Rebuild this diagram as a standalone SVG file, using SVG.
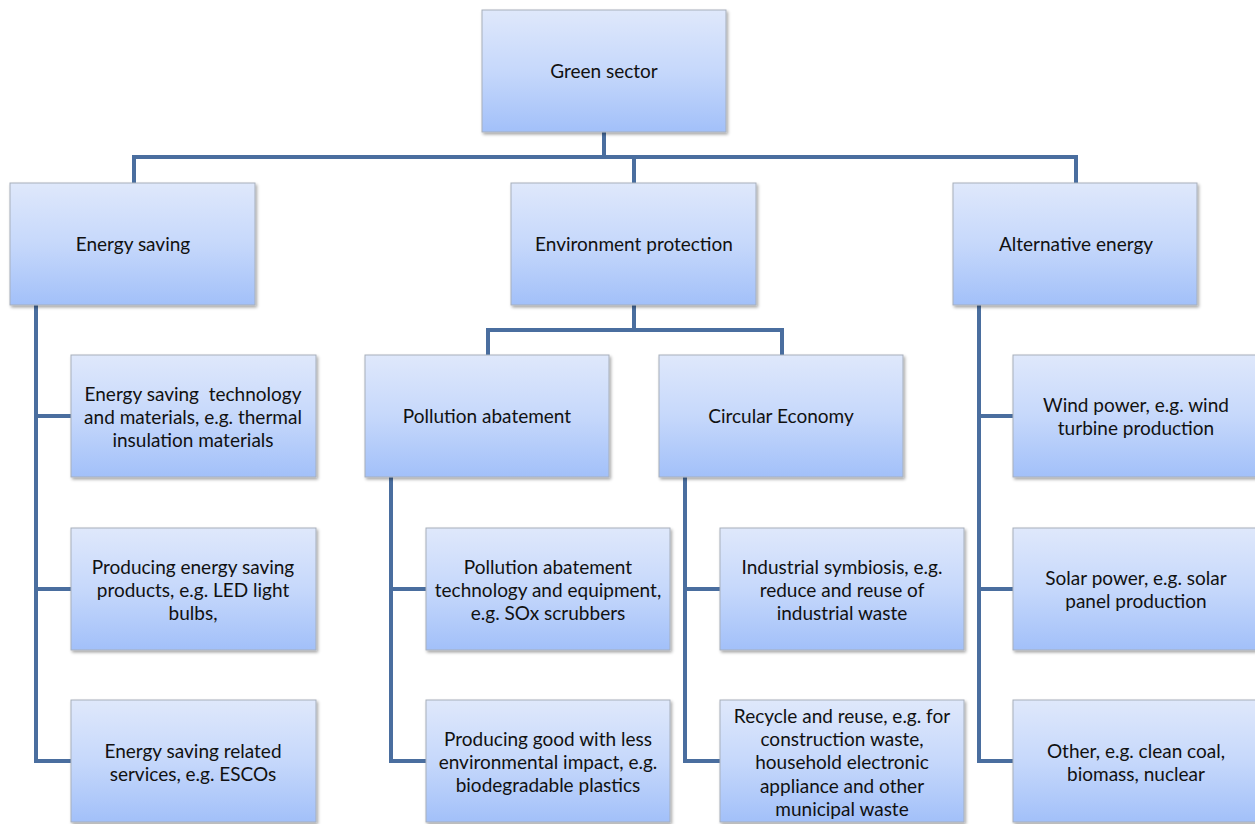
<svg xmlns="http://www.w3.org/2000/svg" width="1255" height="824" viewBox="0 0 1255 824">
<defs>
<linearGradient id="g" x1="0" y1="0" x2="0" y2="1">
<stop offset="0" stop-color="#dfe8fb"/>
<stop offset="0.5" stop-color="#c6d8fb"/>
<stop offset="1" stop-color="#a2c0f9"/>
</linearGradient>
<filter id="sh" x="-10%" y="-10%" width="130%" height="130%">
<feDropShadow dx="1.5" dy="2" stdDeviation="1.5" flood-color="#000" flood-opacity="0.35"/>
</filter>
</defs>
<style>
.box{fill:url(#g);stroke:#a7afbb;stroke-width:1;filter:url(#sh)}
.t{font-family:Lato,"Open Sans",sans-serif;font-size:19px;fill:#111;text-anchor:middle;white-space:pre}
.c{fill:none;stroke:#4a6e9f;stroke-width:4}
</style>
<rect width="1255" height="824" fill="#fff"/>
<g id="connectors">
<path class="c" d="M604 132V157M134 183V157H1076V183M634 157V183"/>
<path class="c" d="M634 305V330M488 355V330H782V355"/>
<path class="c" d="M36 305V761H71M36 416H71M36 589H71"/>
<path class="c" d="M391 477V761H426M391 589H426"/>
<path class="c" d="M685 477V761H720M685 589H720"/>
<path class="c" d="M979 305V761H1013M979 416H1013M979 589H1013"/>
</g>
<g id="green-sector"><rect class="box" x="482" y="10" width="244" height="122"/><text class="t" x="604" y="78">Green sector</text></g>
<g id="energy-saving"><rect class="box" x="10" y="183" width="245" height="122"/><text class="t" x="133" y="251">Energy saving</text></g>
<g id="environment-protection"><rect class="box" x="511" y="183" width="245" height="122"/><text class="t" x="634" y="251">Environment protection</text></g>
<g id="alternative-energy"><rect class="box" x="953" y="183" width="244" height="122"/><text class="t" x="1076" y="251">Alternative energy</text></g>
<g id="pollution-abatement"><rect class="box" x="365" y="355" width="244" height="122"/><text class="t" x="487" y="423">Pollution abatement</text></g>
<g id="circular-economy"><rect class="box" x="659" y="355" width="244" height="122"/><text class="t" x="781" y="423">Circular Economy</text></g>
<g id="es-tech"><rect class="box" x="71" y="355" width="245" height="122"/><text class="t" x="193" xml:space="preserve"><tspan x="193" y="401">Energy saving  technology</tspan><tspan x="193" y="424">and materials, e.g. thermal</tspan><tspan x="193" y="447">insulation materials</tspan></text></g>
<g id="es-products"><rect class="box" x="71" y="528" width="245" height="122"/><text class="t" x="193"><tspan x="193" y="574">Producing energy saving</tspan><tspan x="193" y="597">products, e.g. LED light</tspan><tspan x="193" y="620">bulbs,</tspan></text></g>
<g id="es-services"><rect class="box" x="71" y="700" width="245" height="122"/><text class="t" x="193"><tspan x="193" y="758">Energy saving related</tspan><tspan x="193" y="781">services, e.g. ESCOs</tspan></text></g>
<g id="pa-tech"><rect class="box" x="426" y="528" width="244" height="122"/><text class="t" x="548"><tspan x="548" y="574">Pollution abatement</tspan><tspan x="548" y="597">technology and equipment,</tspan><tspan x="548" y="620">e.g. SOx scrubbers</tspan></text></g>
<g id="pa-goods"><rect class="box" x="426" y="700" width="244" height="122"/><text class="t" x="548"><tspan x="548" y="746">Producing good with less</tspan><tspan x="548" y="769">environmental impact, e.g.</tspan><tspan x="548" y="792">biodegradable plastics</tspan></text></g>
<g id="ce-symbiosis"><rect class="box" x="720" y="528" width="244" height="122"/><text class="t" x="842"><tspan x="842" y="574">Industrial symbiosis, e.g.</tspan><tspan x="842" y="597">reduce and reuse of</tspan><tspan x="842" y="620">industrial waste</tspan></text></g>
<g id="ce-recycle"><rect class="box" x="720" y="700" width="244" height="122"/><text class="t" x="842"><tspan x="842" y="723">Recycle and reuse, e.g. for</tspan><tspan x="842" y="746">construction waste,</tspan><tspan x="842" y="769">household electronic</tspan><tspan x="842" y="793">appliance and other</tspan><tspan x="842" y="816">municipal waste</tspan></text></g>
<g id="ae-wind"><rect class="box" x="1013" y="355" width="246" height="122"/><text class="t" x="1136"><tspan x="1136" y="412">Wind power, e.g. wind</tspan><tspan x="1136" y="435">turbine production</tspan></text></g>
<g id="ae-solar"><rect class="box" x="1013" y="528" width="246" height="122"/><text class="t" x="1136"><tspan x="1136" y="585">Solar power, e.g. solar</tspan><tspan x="1136" y="608">panel production</tspan></text></g>
<g id="ae-other"><rect class="box" x="1013" y="700" width="246" height="122"/><text class="t" x="1136"><tspan x="1136" y="758">Other, e.g. clean coal,</tspan><tspan x="1136" y="781">biomass, nuclear</tspan></text></g>
</svg>
